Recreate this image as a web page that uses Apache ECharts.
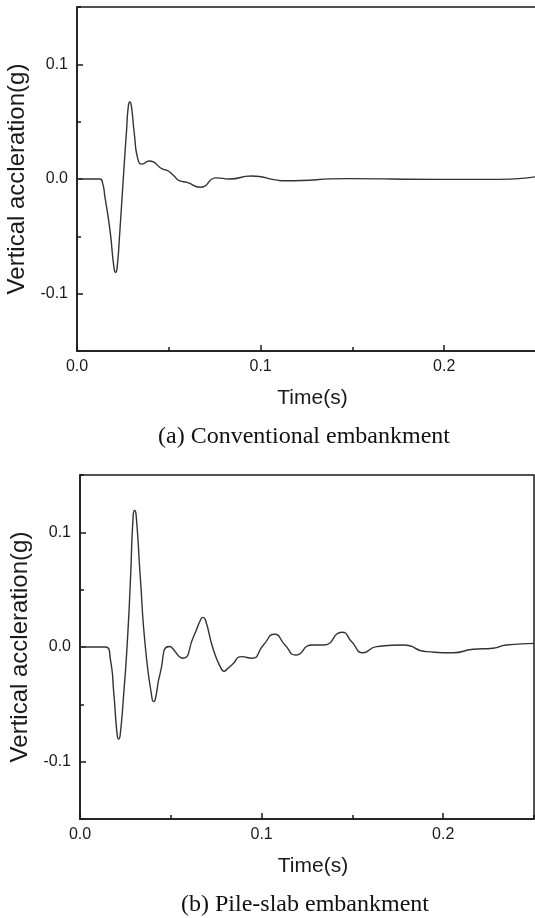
<!DOCTYPE html>
<html>
<head>
<meta charset="utf-8">
<script src="https://cdn.jsdelivr.net/npm/echarts@6/dist/echarts.min.js"></script>
<style>
html,body{margin:0;padding:0;background:#fff;}
#c{width:535px;height:918px;}
</style>
</head>
<body>
<div id="c"></div>
<script>
// (a) Conventional embankment
const timeA = [0, 0.0125, 0.014, 0.0152, 0.0179, 0.0202, 0.021, 0.0218, 0.0234, 0.0252, 0.027, 0.028, 0.0288, 0.0296, 0.0312, 0.0333, 0.0355, 0.0393, 0.047, 0.0487, 0.0523, 0.056, 0.060, 0.0672, 0.076, 0.083, 0.095, 0.109, 0.113, 0.148, 0.197, 0.23, 0.25];
const accA  = [0, 0, -0.004, -0.0154, -0.044, -0.078, -0.0815, -0.078, -0.044, 0, 0.0426, 0.064, 0.0672, 0.064, 0.0397, 0.0165, 0.013, 0.0157, 0.0084, 0.0078, 0.0035, -0.0017, -0.003, -0.0072, 0.001, 0, 0.0026, -0.001, -0.0015, 0.0003, -0.0003, -0.0003, 0.002];
// (b) Pile-slab embankment
const timeB = [0, 0.014, 0.0168, 0.0186, 0.0205, 0.0213, 0.0221, 0.0241, 0.0259, 0.0277, 0.0293, 0.0301, 0.0309, 0.0332, 0.036, 0.0398, 0.0406, 0.0414, 0.0442, 0.0492, 0.0565, 0.0625, 0.0665, 0.0677, 0.069, 0.0735, 0.078, 0.0794, 0.0808, 0.0836, 0.0891, 0.0946, 0.101, 0.1071, 0.1129, 0.1188, 0.1276, 0.134, 0.1443, 0.1496, 0.1559, 0.1633, 0.1779, 0.1908, 0.2054, 0.2164, 0.2274, 0.2347, 0.25];
const accB  = [0, 0, -0.0115, -0.04, -0.077, -0.0803, -0.077, -0.04, 0, 0.0556, 0.115, 0.119, 0.115, 0.061, 0, -0.046, -0.0476, -0.046, -0.0226, 0.0005, -0.0098, 0.009, 0.024, 0.0258, 0.024, -0.0026, -0.0195, -0.0211, -0.0195, -0.0157, -0.0084, -0.0098, 0.0017, 0.0111, 0.0017, -0.007, 0.0017, 0.0017, 0.0128, 0.0046, -0.005, 0.0003, 0.0017, -0.004, -0.005, -0.002, -0.0011, 0.0017, 0.0032];

const xMajorTicks = [0, 0.1, 0.2];
const yMajorTicks = [-0.1, 0, 0.1];
const xName = 'Time(s)';
const yName = 'Vertical accleration(g)';
const captions = ['(a) Conventional embankment', '(b) Pile-slab embankment'];

const chart = echarts.init(document.getElementById('c'), null, {renderer: 'canvas'});
const axisColor = '#1a1a1a';
const sans = 'Liberation Sans, Arial, Helvetica, sans-serif';
const grids = [
  {left: 77, top: 7, width: 459, height: 344},
  {left: 80, top: 475, width: 454, height: 344}
];
const xAxes = [], yAxes = [], series = [];
grids.forEach((g, i) => {
  g.show = true; g.borderColor = axisColor; g.borderWidth = 1.5; g.backgroundColor = 'transparent';
  g.containLabel = false; g.outerBoundsMode = 'none';
  xAxes.push({
    gridIndex: i, type: 'value', position: 'bottom', min: 0, max: 0.25,
    name: xName, nameLocation: 'middle', nameGap: 37,
    nameTextStyle: {fontFamily: sans, fontSize: 21, color: axisColor, padding: [0, 0, 0, 12]},
    axisLine: {show: true, onZero: false, lineStyle: {color: axisColor, width: 1.5}},
    axisTick: {show: true, inside: true, length: 6, customValues: xMajorTicks, lineStyle: {color: axisColor, width: 1.5}},
    axisLabel: {show: true, customValues: xMajorTicks, margin: 8, fontFamily: sans, fontSize: 16, color: axisColor,
      formatter: v => Number(v).toFixed(1)},
    splitLine: {show: false}
  });
  xAxes.push({
    gridIndex: i, type: 'value', position: 'bottom', min: 0, max: 0.25, interval: 0.05,
    axisLine: {show: false, onZero: false},
    axisTick: {show: true, inside: true, length: 4, lineStyle: {color: axisColor, width: 1.5}},
    axisLabel: {show: false}, splitLine: {show: false}
  });
  yAxes.push({
    gridIndex: i, type: 'value', position: 'left', min: -0.15, max: 0.15,
    name: yName, nameLocation: 'middle', nameGap: 46, nameRotate: 90,
    nameTextStyle: {fontFamily: sans, fontSize: 24, color: axisColor},
    axisLine: {show: true, onZero: false, lineStyle: {color: axisColor, width: 1.5}},
    axisTick: {show: true, inside: true, length: 6, customValues: yMajorTicks, lineStyle: {color: axisColor, width: 1.5}},
    axisLabel: {show: true, customValues: yMajorTicks, margin: 9, fontFamily: sans, fontSize: 16, color: axisColor,
      formatter: v => Number(v).toFixed(1)},
    splitLine: {show: false}
  });
  yAxes.push({
    gridIndex: i, type: 'value', position: 'left', min: -0.15, max: 0.15, interval: 0.05,
    axisLine: {show: false, onZero: false},
    axisTick: {show: true, inside: true, length: 4, lineStyle: {color: axisColor, width: 1.5}},
    axisLabel: {show: false}, splitLine: {show: false}
  });
});
const times = [timeA, timeB], accs = [accA, accB];
[0, 1].forEach(i => {
  series.push({
    type: 'line', xAxisIndex: i * 2, yAxisIndex: i * 2,
    data: times[i].map((t, k) => [t, accs[i][k]]),
    smooth: 0.6, showSymbol: false, symbol: 'none',
    lineStyle: {color: '#333', width: 1.4},
    clip: true, animation: false
  });
});
chart.setOption({
  animation: false,
  grid: grids,
  xAxis: xAxes,
  yAxis: yAxes,
  series: series,
  graphic: [
    {type: 'text', x: 304, y: 437, style: {text: captions[0], font: '24px "Liberation Serif", "Times New Roman", serif', fill: '#111', textAlign: 'center', textVerticalAlign: 'middle'}},
    {type: 'text', x: 305, y: 905, style: {text: captions[1], font: '24px "Liberation Serif", "Times New Roman", serif', fill: '#111', textAlign: 'center', textVerticalAlign: 'middle'}}
  ]
});
</script>
</body>
</html>
